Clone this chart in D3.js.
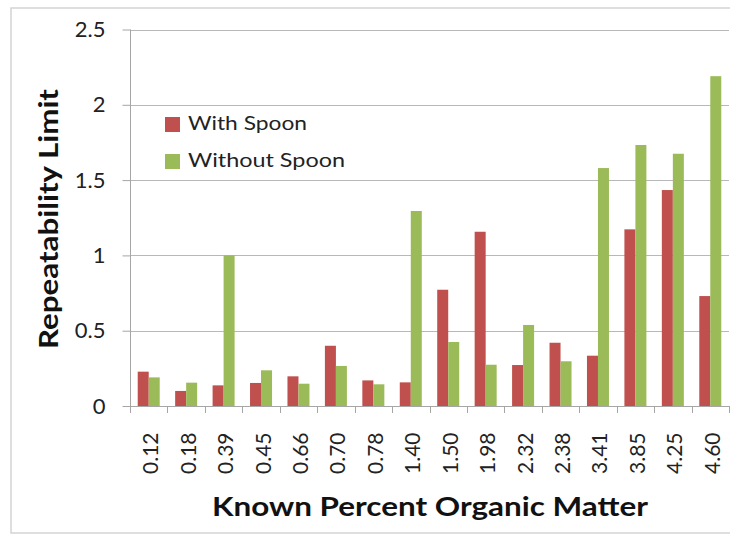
<!DOCTYPE html>
<html>
<head>
<meta charset="utf-8">
<script src="https://cdn.jsdelivr.net/npm/d3@7"></script>
<style>
  body { margin: 0; background: #fff; }
  svg { display: block; }
</style>
</head>
<body>
<script>
var categories = ["0.12", "0.18", "0.39", "0.45", "0.66", "0.70", "0.78", "1.40",
                  "1.50", "1.98", "2.32", "2.38", "3.41", "3.85", "4.25", "4.60"];
var withSpoon = [0.228, 0.10, 0.137, 0.153, 0.197, 0.40, 0.17, 0.157,
                 0.772, 1.157, 0.272, 0.42, 0.334, 1.173, 1.434, 0.73];
var withoutSpoon = [0.19, 0.155, 1.0, 0.237, 0.148, 0.266, 0.144, 1.295,
                    0.425, 0.274, 0.538, 0.297, 1.58, 1.733, 1.675, 2.19];
var seriesNames = ["With Spoon", "Without Spoon"];
var yTicks = [0, 0.5, 1, 1.5, 2, 2.5];

var colors = ["#C0504D", "#9BBB59"];
var font = "Lato, 'Open Sans', sans-serif";
var width = 730, height = 535;
var plotLeft = 130, plotRight = 729, plotTop = 29.5, plotBottom = 406;

var svg = d3.select("body").append("svg")
    .attr("width", width)
    .attr("height", height);

// outer chart border
svg.append("rect")
    .attr("x", 11).attr("y", 8)
    .attr("width", 722).attr("height", 525)
    .attr("fill", "#fff")
    .attr("stroke", "#d4d4d4")
    .attr("stroke-width", 1.5);

var x = d3.scaleBand().domain(categories).range([plotLeft, plotRight]).paddingInner(0).paddingOuter(0);
var y = d3.scaleLinear().domain([0, 2.5]).range([plotBottom, plotTop]);

// gridlines
svg.append("g")
  .selectAll("line")
  .data(yTicks.slice(1))
  .enter().append("line")
    .attr("x1", plotLeft).attr("x2", plotRight)
    .attr("y1", function (d) { return Math.round(y(d)) + 0.5; })
    .attr("y2", function (d) { return Math.round(y(d)) + 0.5; })
    .attr("stroke", "#b8b8b8")
    .attr("stroke-width", 1);

// bars
var barW = 11;
var data = categories.map(function (c, i) { return { cat: c, vals: [withSpoon[i], withoutSpoon[i]] }; });
var groups = svg.append("g").selectAll("g")
  .data(data)
  .enter().append("g")
    .attr("transform", function (d) { return "translate(" + (x(d.cat) + x.bandwidth() / 2 - barW) + ",0)"; });
groups.selectAll("rect")
  .data(function (d) { return d.vals; })
  .enter().append("rect")
    .attr("x", function (d, i) { return i * barW; })
    .attr("y", function (d) { return y(d); })
    .attr("width", barW)
    .attr("height", function (d) { return y(0) - y(d); })
    .attr("fill", function (d, i) { return colors[i]; });

// y axis
var yAxis = svg.append("g")
    .attr("transform", "translate(" + (plotLeft + 0.5) + ",0)")
    .call(d3.axisLeft(y).tickValues(yTicks).tickSize(8).tickPadding(17)
      .tickFormat(function (d) { return String(d); }));
yAxis.select(".domain").attr("stroke", "#a6a6a6").attr("d", "M0," + plotTop + "V" + plotBottom);
yAxis.selectAll(".tick line").attr("stroke", "#a6a6a6");
yAxis.selectAll("text")
    .attr("font-family", font)
    .attr("font-size", 22)
    .attr("fill", "#222");

// x axis
var xAxis = svg.append("g")
    .attr("transform", "translate(0," + (plotBottom + 0.5) + ")")
    .call(d3.axisBottom(x).tickSize(0).tickFormat(""));
xAxis.select(".domain").attr("stroke", "#a6a6a6").attr("d", "M" + plotLeft + ",0H" + plotRight);
svg.append("g").selectAll("line")
  .data(categories.concat(["end"]))
  .enter().append("line")
    .attr("x1", function (d, i) { return Math.round(plotLeft + i * x.bandwidth()) + 0.5; })
    .attr("x2", function (d, i) { return Math.round(plotLeft + i * x.bandwidth()) + 0.5; })
    .attr("y1", plotBottom).attr("y2", plotBottom + 7)
    .attr("stroke", "#a6a6a6");

svg.append("g").selectAll("text")
  .data(categories)
  .enter().append("text")
    .attr("transform", function (d) { return "translate(" + (x(d) + x.bandwidth() / 2 + 9.5) + "," + 474 + ") rotate(-90)"; })
    .attr("font-family", font)
    .attr("font-size", 21)
    .attr("fill", "#222")
    .text(function (d) { return d; });

// axis titles
svg.append("text")
    .attr("transform", "translate(58,219) rotate(-90)")
    .attr("text-anchor", "middle")
    .attr("font-family", font)
    .attr("font-weight", "bold")
    .attr("font-size", 27)
    .attr("textLength", 260)
    .attr("lengthAdjust", "spacingAndGlyphs")
    .attr("fill", "#111")
    .text("Repeatability Limit");

svg.append("text")
    .attr("x", 430).attr("y", 516)
    .attr("text-anchor", "middle")
    .attr("font-family", font)
    .attr("font-weight", "bold")
    .attr("font-size", 27)
    .attr("textLength", 436)
    .attr("lengthAdjust", "spacingAndGlyphs")
    .attr("fill", "#111")
    .text("Known Percent Organic Matter");

// legend
var legendWidths = [119, 157];
var legend = svg.append("g").selectAll("g")
  .data(seriesNames)
  .enter().append("g")
    .attr("transform", function (d, i) { return "translate(165," + (117 + i * 37) + ")"; });
legend.append("rect")
    .attr("width", 15).attr("height", 15)
    .attr("fill", function (d, i) { return colors[i]; });
legend.append("text")
    .attr("x", 23).attr("y", 13)
    .attr("font-family", font)
    .attr("font-size", 20)
    .attr("textLength", function (d, i) { return legendWidths[i]; })
    .attr("lengthAdjust", "spacingAndGlyphs")
    .attr("fill", "#222")
    .text(function (d) { return d; });
</script>
</body>
</html>
